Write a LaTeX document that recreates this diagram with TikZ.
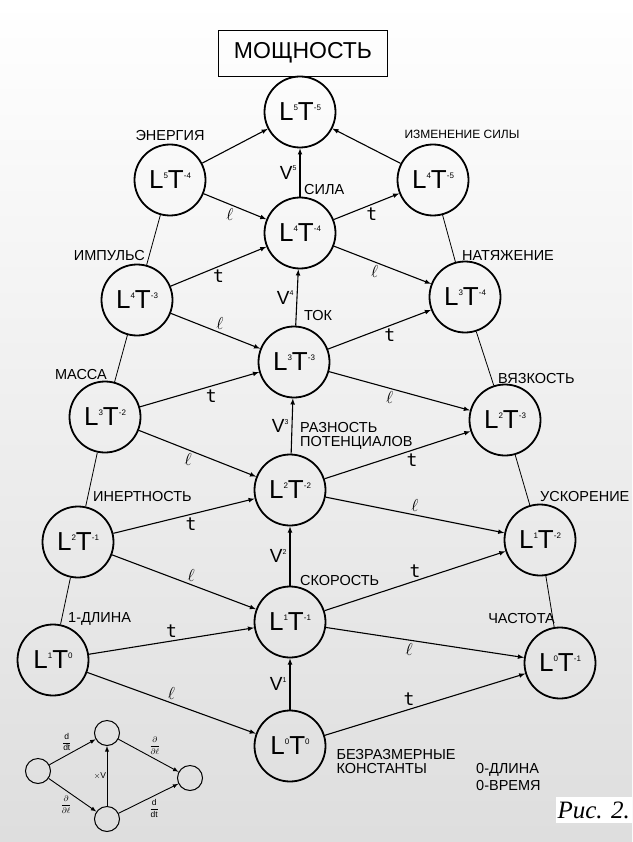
\documentclass[tikz,border=0pt]{standalone}
\usepackage{fontspec}
\setmainfont{Liberation Sans}
\newfontfamily\monot{DejaVu Sans Mono}
\newfontfamily\figfont{Liberation Serif}
\usetikzlibrary{arrows,positioning}

% L^a T^b written with small raised indices
\newcommand{\sdim}[1]{\raisebox{10.5pt}{\fontsize{8}{8}\selectfont #1}}
\newcommand{\LT}[2]{L\sdim{#1}T\sdim{#2}}
\newcommand{\Vn}[1]{V\raisebox{8.5pt}{\fontsize{7}{7}\selectfont #1}}
\newcommand{\lsym}{$\ell$}
\newcommand{\tsym}{{\monot\fontsize{18}{18}\selectfont t}}
\newcommand{\opfrac}[2]{$\displaystyle\frac{#1}{#2}$}

\tikzset{
  dimnode/.style = {draw, circle, line width=1.8pt, minimum size=71pt, inner sep=0pt,
                    font=\fontsize{26}{26}\selectfont},
  tag/.style     = {inner sep=0pt, font=\fontsize{14.5}{14.5}\selectfont},
  opl/.style     = {inner sep=3pt, font=\fontsize{19}{19}\selectfont},
  move/.style    = {->, line width=1.1pt},
  link/.style    = {line width=0.8pt},
  small circ/.style = {draw, circle, line width=1pt, minimum size=25pt, inner sep=0pt},
  title box/.style  = {draw, line width=0.8pt, minimum width=169pt, minimum height=46pt,
                       font=\fontsize{23}{23}\selectfont}
}

\begin{document}
\begin{tikzpicture}[x=1pt, y=-1pt, >=latex]

  \useasboundingbox (0,0) rectangle (632,842);
  \shade[top color=white, bottom color=black!13] (0,0) rectangle (632,842);

  \node[title box] (power) at (303,53) {МОЩНОСТЬ};

  % the lattice of L^a T^b, one row per level
  \node[dimnode] (p55) at (300,112) {\LT{5}{-5}};
  \node[dimnode] (p54) at (170,180) {\LT{5}{-4}};
  \node[dimnode] (p45) at (433,180) {\LT{4}{-5}};
  \node[dimnode] (p44) at (300,233) {\LT{4}{-4}};
  \node[dimnode] (p43) at (137,300) {\LT{4}{-3}};
  \node[dimnode] (p34) at (465,297) {\LT{3}{-4}};
  \node[dimnode] (p33) at (294,362) {\LT{3}{-3}};
  \node[dimnode] (p32) at (105,417) {\LT{3}{-2}};
  \node[dimnode] (p23) at (505,420) {\LT{2}{-3}};
  \node[dimnode] (p22) at (290,490) {\LT{2}{-2}};
  \node[dimnode] (p21) at (78,542)  {\LT{2}{-1}};
  \node[dimnode] (p12) at (540,540) {\LT{1}{-2}};
  \node[dimnode] (p11) at (290,622) {\LT{1}{-1}};
  \node[dimnode] (p10) at (53,660)  {\LT{1}{0}};
  \node[dimnode] (p01) at (560,663) {\LT{0}{-1}};
  \node[dimnode] (p00) at (290,746) {\LT{0}{0}};

  % names of the quantities
  \node[tag, above=3pt of p54] (energy) {ЭНЕРГИЯ};
  \node[tag, above=5pt of p45, xshift=29pt, font=\fontsize{12}{12}\selectfont] (dforce) {ИЗМЕНЕНИЕ СИЛЫ};
  \node[tag, anchor=south west] (force) at ([xshift=4pt, yshift=2pt]p44.north) {СИЛА};
  \node[tag, anchor=south east] (impulse) at ([xshift=8pt, yshift=3pt]p43.north) {ИМПУЛЬС};
  \node[tag, anchor=south west] (tension) at ([xshift=-3pt]p34.north) {НАТЯЖЕНИЕ};
  \node[tag, anchor=south west] (current) at ([xshift=10pt, yshift=5pt]p33.north) {ТОК};
  \node[tag, anchor=south east] (mass) at ([xshift=2pt, yshift=1pt]p32.north) {МАССА};
  \node[tag, anchor=south west] (visc) at ([xshift=-7pt]p23.north) {ВЯЗКОСТЬ};
  \node[tag, anchor=south west, align=left] (volt) at ([xshift=10pt, yshift=4pt]p22.north)
    {РАЗНОСТЬ\\ПОТЕНЦИАЛОВ};
  \node[tag, anchor=south west] (inert) at ([xshift=15pt, yshift=4pt]p21.north) {ИНЕРТНОСТЬ};
  \node[tag, anchor=south west] (accel) at ([yshift=2pt]p12.north) {УСКОРЕНИЕ};
  \node[tag, anchor=south west] (speed) at ([xshift=10pt]p11.north) {СКОРОСТЬ};
  \node[tag, anchor=south west] (length) at ([xshift=15pt, yshift=-2pt]p10.north) {1-ДЛИНА};
  \node[tag, anchor=south east] (freq) at ([xshift=-5pt, yshift=3pt]p01.north) {ЧАСТОТА};
  \node[tag, anchor=north west, align=left] (const) at ([xshift=10pt, yshift=-3pt]p00.east)
    {БЕЗРАЗМЕРНЫЕ\\КОНСТАНТЫ};
  \node[tag, anchor=west, align=left] (zero) at (476,777) {0-ДЛИНА\\[2pt]0-ВРЕМЯ};

  % side links
  \foreach \a/\b in {p54/p43, p43/p32, p32/p21, p21/p10, p45/p34, p34/p23, p23/p12, p12/p01}
    \draw[link] (\a) -- (\b);

  % multiplying by V
  \foreach \a/\b/\n in {p44/p55/5, p33/p44/4, p22/p33/3, p11/p22/2, p00/p11/1}
    \draw[move] (\a) -- node[opl, left] {\Vn{\n}} (\b);

  \draw[move] (p54) -- (p55);
  \draw[move] (p45) -- (p55);
  \draw[move] (p54) -- node[opl, pos=0.42, below] {\lsym} (p44);
  \draw[move] (p44) -- node[opl, pos=0.58, below] {\tsym} (p45);
  \draw[move] (p43) -- node[opl, below] {\tsym} (p44);
  \draw[move] (p44) -- node[opl, pos=0.42, below] {\lsym} (p34);
  \draw[move] (p43) -- node[opl, pos=0.55, above] {\lsym} (p33);
  \draw[move] (p33) -- node[opl, pos=0.6, below] {\tsym} (p34);
  \draw[move] (p32) -- node[opl, pos=0.6, below] {\tsym} (p33);
  \draw[move] (p33) -- node[opl, pos=0.43, below] {\lsym} (p23);
  \draw[move] (p32) -- node[opl, pos=0.42, below] {\lsym} (p22);
  \draw[move] (p22) -- node[opl, pos=0.6, below] {\tsym} (p23);
  \draw[move] (p21) -- node[opl, pos=0.55, below] {\tsym} (p22);
  \draw[move] (p22) -- node[opl, above] {\lsym} (p12);
  \draw[move] (p21) -- node[opl, pos=0.55, above] {\lsym} (p11);
  \draw[move] (p11) -- node[opl, above] {\tsym} (p12);
  \draw[move] (p10) -- node[opl, above] {\tsym} (p11);
  \draw[move] (p11) -- node[opl, pos=0.42, below] {\lsym} (p01);
  \draw[move] (p10) -- node[opl, above] {\lsym} (p00);
  \draw[move] (p00) -- node[opl, pos=0.42, above] {\tsym} (p01);

  % little key of the operations
  \begin{scope}[every node/.append style={font=\fontsize{8.5}{9}\selectfont, inner sep=0.5pt},
                move/.append style={line width=0.9pt}]
    \node[small circ] (q0) at (38,771)  {};
    \node[small circ] (qt) at (107,733) {};
    \node[small circ] (ql) at (107,819) {};
    \node[small circ] (q1) at (190,778) {};
    \draw[move] (q0) -- node[above left] {\opfrac{\mathrm{d}}{\mathrm{dt}}} (qt);
    \draw[move] (qt) -- node[above right] {\opfrac{\partial}{\partial\ell}} (q1);
    \draw[move] (q0) -- node[below left] {\opfrac{\partial}{\partial\ell}} (ql);
    \draw[move] (ql) -- node[left] {$\times$V} (qt);
    \draw[move] (ql) -- node[below right] {\opfrac{\mathrm{d}}{\mathrm{dt}}} (q1);
  \end{scope}

  \node[fill=white, inner sep=2pt, minimum height=26pt, anchor=east,
        font=\figfont\itshape\fontsize{25}{25}\selectfont] (fig) at (632,810) {Рис. 2.};

\end{tikzpicture}
\end{document}
